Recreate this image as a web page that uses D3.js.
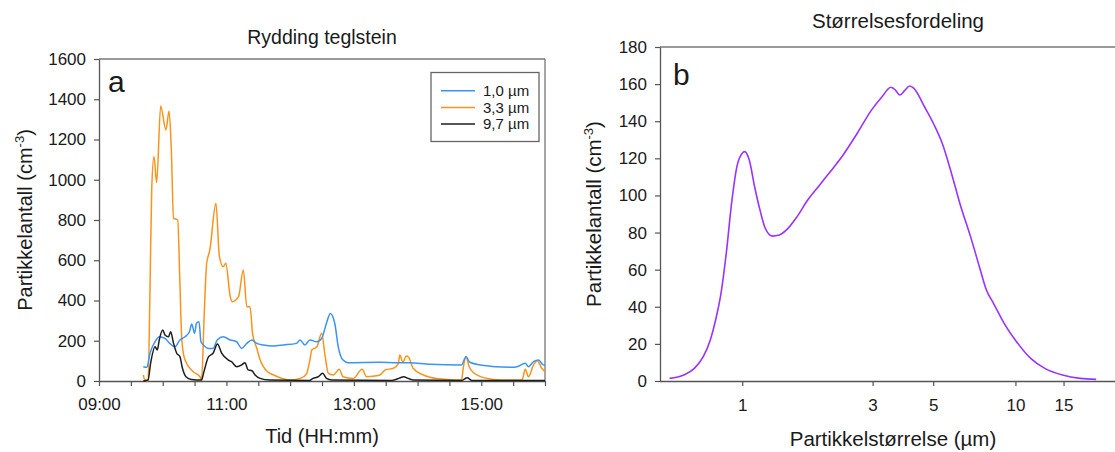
<!DOCTYPE html>
<html><head><meta charset="utf-8">
<script src="https://cdn.jsdelivr.net/npm/d3@7"></script>
<style>
body{margin:0;background:#fff}
svg{display:block;font-family:"Liberation Sans",Arial,sans-serif}
</style>
</head><body>
<svg id="c" width="1115" height="452"></svg>
<script>
// ---------- Data: panel a (time in decimal hours, particles per cm3) ----------
const seriesNames = ["1,0 µm", "3,3 µm", "9,7 µm"];
const seriesColors = ["#3a94f2", "#f7941d", "#1e1e1e"];
const timeTickLabels = ["09:00", "11:00", "13:00", "15:00"];

const blue1um = [
  [9.695,71],[9.75,68],[9.80,138],[9.88,195],[9.946,220],[10.036,212],[10.11,187],[10.19,170],
  [10.27,204],[10.35,220],[10.42,245],[10.455,283],[10.50,237],[10.53,287],[10.57,295],[10.60,195],
  [10.64,179],[10.72,162],[10.79,162],[10.855,204],[10.95,220],[11.06,204],[11.16,195],[11.24,162],
  [11.32,187],[11.40,204],[11.475,187],[11.58,179],[11.74,174],[11.89,179],[12.10,187],[12.155,204],
  [12.23,179],[12.31,204],[12.42,195],[12.495,212],[12.57,287],[12.63,336],[12.70,287],[12.755,170],
  [12.83,104],[12.91,91],[13.41,93],[13.67,91],[13.88,91],[14.195,83],[14.69,80],[14.76,121],
  [14.82,93],[14.98,80],[15.48,68],[15.56,71],[15.69,88],[15.74,71],[15.82,96],[15.90,104],[15.97,80],[16.0,78]
];
const orange3um = [
  [9.695,30],[9.72,5],[9.77,0],[9.80,450],[9.827,949],[9.863,1115],[9.905,986],[9.968,1367],
  [10.05,1248],[10.10,1342],[10.135,1150],[10.17,809],[10.235,800],[10.27,486],[10.30,204],[10.35,104],
  [10.48,46],[10.585,21],[10.61,5],[10.65,320],[10.69,585],[10.74,651],[10.835,883],[10.89,618],
  [10.95,568],[10.99,585],[11.06,419],[11.09,394],[11.19,419],[11.265,552],[11.32,369],[11.37,369],
  [11.41,237],[11.475,164],[11.53,104],[11.58,71],[11.65,45],[11.74,30],[11.85,15],[12.0,5],
  [12.155,13],[12.21,21],[12.26,38],[12.31,104],[12.34,154],[12.42,170],[12.495,237],[12.55,121],
  [12.60,38],[12.68,30],[12.77,58],[12.83,21],[12.99,13],[13.13,58],[13.20,21],[13.33,25],
  [13.41,30],[13.49,55],[13.62,63],[13.70,88],[13.72,129],[13.77,93],[13.82,124],[13.86,118],
  [13.93,63],[14.09,30],[14.30,12],[14.46,8],[14.69,5],[14.72,71],[14.76,121],[14.81,71],
  [14.93,30],[15.19,8],[15.48,5],[15.64,5],[15.69,58],[15.74,21],[15.82,80],[15.88,101],[15.95,63],[16.0,46]
];
const black9um = [
  [9.695,0],[9.77,5],[9.81,88],[9.88,170],[9.915,154],[9.946,204],[10.0,253],[10.036,229],
  [10.09,220],[10.125,245],[10.17,187],[10.22,138],[10.27,121],[10.31,63],[10.365,21],[10.45,8],
  [10.61,5],[10.64,38],[10.72,121],[10.79,138],[10.86,184],[10.925,138],[11.03,104],[11.08,96],
  [11.16,71],[11.24,80],[11.29,91],[11.34,55],[11.40,51],[11.45,30],[11.53,13],[11.68,5],
  [12.30,3],[12.36,13],[12.44,21],[12.51,38],[12.57,13],[12.65,5],[13.60,3],[13.72,15],
  [13.78,21],[13.86,12],[13.93,5],[14.69,3],[14.78,16],[14.85,3],[16.0,3]
];

// ---------- Data: panel b (particle size in µm, particles per cm3) ----------
const sizeTicks = [1, 3, 5, 10, 15];
const sizeDist = [
  [0.542,1.4],[0.611,3.2],[0.668,6.8],[0.720,13.1],[0.764,22.1],[0.799,32.9],[0.836,47.2],[0.874,68.8],
  [0.914,95.7],[0.956,115.5],[1.0,122.7],[1.021,123.6],[1.061,119.1],[1.110,104.7],[1.161,92.2],[1.214,82.3],
  [1.288,78.1],[1.368,78.7],[1.452,81.4],[1.588,88.6],[1.736,97.5],[1.899,104.7],[2.077,111.9],[2.340,121.8],
  [2.636,133.5],[2.971,146.0],[3.249,153.2],[3.499,158.3],[3.638,156.8],[3.771,154.1],[3.943,156.8],[4.10,159.0],
  [4.25,157.7],[4.647,147.8],[5.006,138.9],[5.395,128.1],[5.81,112.8],[6.26,95.7],[6.85,77.8],[7.38,61.6],
  [7.83,49.0],[8.31,41.9],[9.09,31.1],[10.09,21.2],[11.37,12.2],[12.81,6.8],[14.87,3.2],[17.26,1.4],[19.74,0.9]
];

const svg = d3.select("#c");
svg.append("rect").attr("width",1115).attr("height",452).attr("fill","#fff");
const axisColor = "#555";
const textColor = "#1a1a1a";

function styleAxis(g, fs){
  g.selectAll("path").attr("stroke", axisColor).attr("stroke-width",1.3);
  g.selectAll("line").attr("stroke", axisColor).attr("stroke-width",1.2);
  g.selectAll("text").attr("fill", textColor).style("font-size", fs+"px").style("font-family",'"Liberation Sans",Arial,sans-serif');
}

// ================= Panel a =================
(function(){
  const L=99, R=545, T=59, B=381;
  const x = d3.scaleLinear().domain([9,16]).range([L,R]);
  const y = d3.scaleLinear().domain([0,1600]).range([B,T]);

  // frame top & right
  svg.append("line").attr("x1",L).attr("x2",R).attr("y1",T).attr("y2",T).attr("stroke","#777").attr("stroke-width",1.3);
  svg.append("line").attr("x1",R).attr("x2",R).attr("y1",T).attr("y2",B).attr("stroke","#777").attr("stroke-width",1.3);

  const xTicks = d3.range(9, 16.001, 0.5);
  const gx = svg.append("g").attr("transform",`translate(0,${B})`)
    .call(d3.axisBottom(x).tickValues(xTicks).tickSize(5).tickSizeOuter(0).tickPadding(12)
      .tickFormat(d => {
        const lbl = String(Math.floor(d)).padStart(2,"0")+":00";
        return (Number.isInteger(d) && timeTickLabels.includes(lbl)) ? lbl : "";
      }));
  styleAxis(gx, 17);

  const gy = svg.append("g").attr("transform",`translate(${L},0)`)
    .call(d3.axisLeft(y).tickValues(d3.range(0,1601,200)).tickFormat(d3.format("d"))
      .tickSize(5).tickSizeOuter(0).tickPadding(8));
  styleAxis(gy, 17);

  const line = d3.line().x(d=>x(d[0])).y(d=>y(d[1])).curve(d3.curveMonotoneX);
  const data = [blue1um, orange3um, black9um];
  [1,0,2].forEach(i=>{
    svg.append("path").datum(data[i]).attr("d",line).attr("fill","none")
      .attr("stroke",seriesColors[i]).attr("stroke-width",1.5).attr("stroke-linejoin","round");
  });

  // title
  svg.append("text").attr("x",(L+R)/2).attr("y",44).attr("text-anchor","middle")
    .style("font-size","19.5px").attr("fill",textColor).text("Rydding teglstein");
  // x title
  svg.append("text").attr("x",(L+R)/2).attr("y",443).attr("text-anchor","middle")
    .style("font-size","20px").attr("fill",textColor).text("Tid (HH:mm)");
  // y title
  const yt = svg.append("text").attr("transform","translate(32,220) rotate(-90)").attr("text-anchor","middle")
    .style("font-size","20px").attr("fill",textColor);
  yt.append("tspan").text("Partikkelantall (cm");
  yt.append("tspan").attr("dy",-8).style("font-size","13px").text("-3");
  yt.append("tspan").attr("dy",8).text(")");
  // panel letter
  svg.append("text").attr("x",108).attr("y",92).style("font-size","30px").attr("fill",textColor).text("a");

  // legend
  const lg = svg.append("g");
  lg.append("rect").attr("x",431).attr("y",72.5).attr("width",108).attr("height",69)
    .attr("fill","#fff").attr("stroke","#666").attr("stroke-width",1.3);
  seriesNames.forEach((n,i)=>{
    const yy = 90.7 + i*16.7;
    lg.append("line").attr("x1",441).attr("x2",475).attr("y1",yy).attr("y2",yy)
      .attr("stroke",seriesColors[i]).attr("stroke-width",1.5);
    lg.append("text").attr("x",483).attr("y",yy+5.3).style("font-size","15px").attr("fill",textColor).text(n);
  });
})();

// ================= Panel b =================
(function(){
  const L=660, T=47, B=381;
  const decade = 273.2;
  const x = d3.scaleLog().domain([0.5, 25]).range([L, L + Math.log10(50)*decade]);
  const y = d3.scaleLinear().domain([0,180]).range([B,T]);

  svg.append("line").attr("x1",L).attr("x2",1115).attr("y1",T).attr("y2",T).attr("stroke","#777").attr("stroke-width",1.3);

  const gx = svg.append("g").attr("transform",`translate(0,${B})`)
    .call(d3.axisBottom(x).tickValues(sizeTicks).tickSize(5).tickSizeOuter(0).tickPadding(13).tickFormat(d3.format("d")));
  gx.select(".domain").attr("d", `M${L},0.5H1115`);
  styleAxis(gx, 17);

  const gy = svg.append("g").attr("transform",`translate(${L},0)`)
    .call(d3.axisLeft(y).tickValues(d3.range(0,181,20)).tickFormat(d3.format("d"))
      .tickSize(5).tickSizeOuter(0).tickPadding(8));
  styleAxis(gy, 17);

  const line = d3.line().x(d=>x(d[0])).y(d=>y(d[1])).curve(d3.curveMonotoneX);
  svg.append("path").datum(sizeDist).attr("d",line).attr("fill","none")
    .attr("stroke","#9933ff").attr("stroke-width",1.6);

  svg.append("text").attr("x",898).attr("y",28).attr("text-anchor","middle")
    .style("font-size","20.5px").attr("fill",textColor).text("Størrelsesfordeling");
  svg.append("text").attr("x",893).attr("y",446).attr("text-anchor","middle")
    .style("font-size","20.5px").attr("fill",textColor).text("Partikkelstørrelse (µm)");
  const yt = svg.append("text").attr("transform","translate(601,214) rotate(-90)").attr("text-anchor","middle")
    .style("font-size","20.5px").attr("fill",textColor);
  yt.append("tspan").text("Partikkelantall (cm");
  yt.append("tspan").attr("dy",-8).style("font-size","13px").text("-3");
  yt.append("tspan").attr("dy",8).text(")");
  svg.append("text").attr("x",673).attr("y",85).style("font-size","30px").attr("fill",textColor).text("b");
})();
</script>
</body></html>
